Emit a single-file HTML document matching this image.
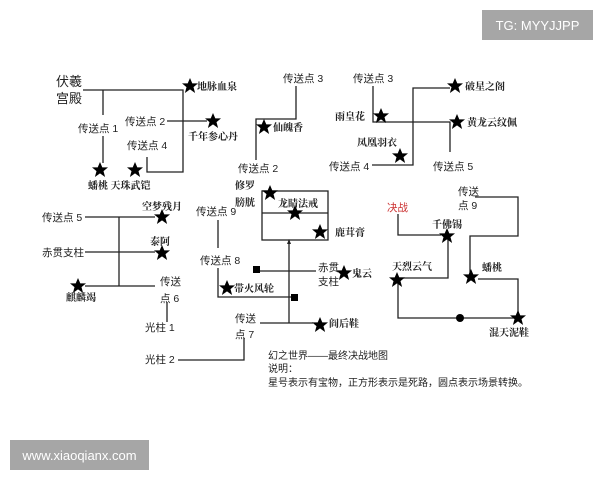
<!DOCTYPE html>
<html><head><meta charset="utf-8"><style>
body{margin:0;background:#fff;width:600px;height:480px;overflow:hidden;position:relative}
svg{position:absolute;left:0;top:0}
.b{position:absolute;background:#a6a6a6;color:#fff;font-family:"Liberation Sans",sans-serif;font-size:13px;display:flex;align-items:center;justify-content:center}
</style></head><body>
<div class="b" style="left:482px;top:10px;width:111px;height:30px">TG: MYYJJPP</div>
<div class="b" style="left:10px;top:440px;width:139px;height:30px">www.xiaoqianx.com</div>
<svg width="600" height="480" font-family="'Liberation Sans','Noto Sans CJK SC',sans-serif" font-size="10.5" fill="#222">
<defs><polygon id="s" points="0,-8 2.3,-2.6 8,-2.6 3.5,1.1 5.1,7 0,3.4 -5.1,7 -3.5,1.1 -8,-2.6 -2.3,-2.6" fill="#000"/></defs>
<g stroke="#222" stroke-width="1.3" fill="none">
<!-- left top -->
<polyline points="83,90 183,90 183,172 147,172 147,157"/>
<line x1="103" y1="90" x2="103" y2="115"/><line x1="103" y1="136" x2="103" y2="163"/>
<line x1="167" y1="121" x2="207" y2="121"/>
<polyline points="296,86 296,119 256,119 256,160"/>
<!-- right top -->
<polyline points="373,86 373,122 450,122 450,152"/>
<polyline points="450,88 413,88 413,165 372,165"/>
<!-- middle box -->
<rect x="262" y="191" width="66" height="49"/>
<line x1="262" y1="213" x2="328" y2="213"/>
<!-- left middle -->
<line x1="85" y1="217" x2="155" y2="217"/>
<line x1="119" y1="217" x2="119" y2="286"/>
<line x1="85" y1="252" x2="155" y2="252"/>
<line x1="85" y1="286" x2="155" y2="286"/>
<line x1="167" y1="302" x2="167" y2="322"/>
<polyline points="178,360 244,360 244,338"/>
<!-- middle -->
<line x1="218" y1="220" x2="218" y2="248"/>
<polyline points="218,268 218,297 291,297"/>
<line x1="260" y1="271" x2="316" y2="271"/>
<line x1="289" y1="243" x2="289" y2="323"/>
<line x1="260" y1="323" x2="313" y2="323"/>
<!-- right -->
<polyline points="398,214 398,235 441,235"/>
<polyline points="448,236 448,278 398,278"/>
<polyline points="398,282 398,318 518,318"/>
<polyline points="475,197 518,197 518,236 470,236 470,277"/>
<polyline points="478,279 518,279 518,318"/>
</g>
<polygon points="289,239 287,244 291,244" fill="#222"/>
<rect x="253" y="266" width="7" height="7" fill="#000"/>
<rect x="291" y="294" width="7" height="7" fill="#000"/>
<circle cx="460" cy="318" r="4" fill="#000"/>
<g>
<use href="#s" x="190" y="86"/><use href="#s" x="213" y="121"/><use href="#s" x="100" y="170"/><use href="#s" x="135" y="170"/>
<use href="#s" x="264" y="127"/><use href="#s" x="381" y="116"/><use href="#s" x="455" y="86"/><use href="#s" x="457" y="122"/><use href="#s" x="400" y="156"/>
<use href="#s" x="270" y="193"/><use href="#s" x="295" y="213"/><use href="#s" x="320" y="232"/>
<use href="#s" x="162" y="217"/><use href="#s" x="162" y="253"/><use href="#s" x="78" y="286"/>
<use href="#s" x="227" y="288"/><use href="#s" x="344" y="273"/><use href="#s" x="320" y="325"/>
<use href="#s" x="447" y="236"/><use href="#s" x="397" y="280"/><use href="#s" x="471" y="277"/><use href="#s" x="518" y="318"/>
</g>
<g font-size="13"><text x="56" y="86">伏羲</text><text x="56" y="103">宫殿</text></g>
<text x="78" y="132">传送点 1</text><text x="125" y="125">传送点 2</text><text x="127" y="149">传送点 4</text>
<text x="283" y="82">传送点 3</text><text x="238" y="172">传送点 2</text>
<text x="353" y="82">传送点 3</text><text x="433" y="170">传送点 5</text><text x="329" y="170">传送点 4</text>
<text x="42" y="221">传送点 5</text><text x="42" y="256">赤贯支柱</text>
<text x="160" y="285">传送</text><text x="160" y="302">点 6</text><text x="145" y="331">光柱 1</text><text x="145" y="363">光柱 2</text>
<text x="235" y="322">传送</text><text x="235" y="338">点 7</text>
<text x="196" y="215">传送点 9</text><text x="200" y="264">传送点 8</text>
<text x="318" y="271">赤贯</text><text x="318" y="285">支柱</text>
<text x="458" y="195">传送</text><text x="458" y="209">点 9</text>
<text x="387" y="211" fill="#c33">决战</text>
<g font-family="'Liberation Serif','Noto Serif CJK SC',serif" font-weight="bold" font-size="10">
<text x="197" y="90">地脉血泉</text><text x="188" y="140">千年参心丹</text><text x="88" y="189">蟠桃 天珠武铠</text>
<text x="273" y="131">仙魄香</text><text x="335" y="120">雨皇花</text><text x="465" y="90">破星之阁</text><text x="467" y="126">黄龙云纹佩</text><text x="357" y="146">凤凰羽衣</text>
<text x="235" y="189">修罗</text><text x="235" y="206">膀胱</text><text x="278" y="207">龙睛法戒</text><text x="335" y="236">鹿茸膏</text>
<text x="142" y="210">空梦残月</text><text x="150" y="245">泰阿</text><text x="66" y="301">麒麟竭</text>
<text x="234" y="292">带火风轮</text><text x="352" y="277">鬼云</text><text x="329" y="327">阎后鞋</text>
<text x="432" y="228">千佛锡</text><text x="392" y="270">天烈云气</text><text x="482" y="271">蟠桃</text><text x="489" y="336">混天泥鞋</text>
</g>
<g font-size="10"><text x="268" y="359">幻之世界——最终决战地图</text><text x="268" y="372">说明：</text><text x="268" y="386">星号表示有宝物，正方形表示是死路，圆点表示场景转换。</text></g>
</svg>
</body></html>
